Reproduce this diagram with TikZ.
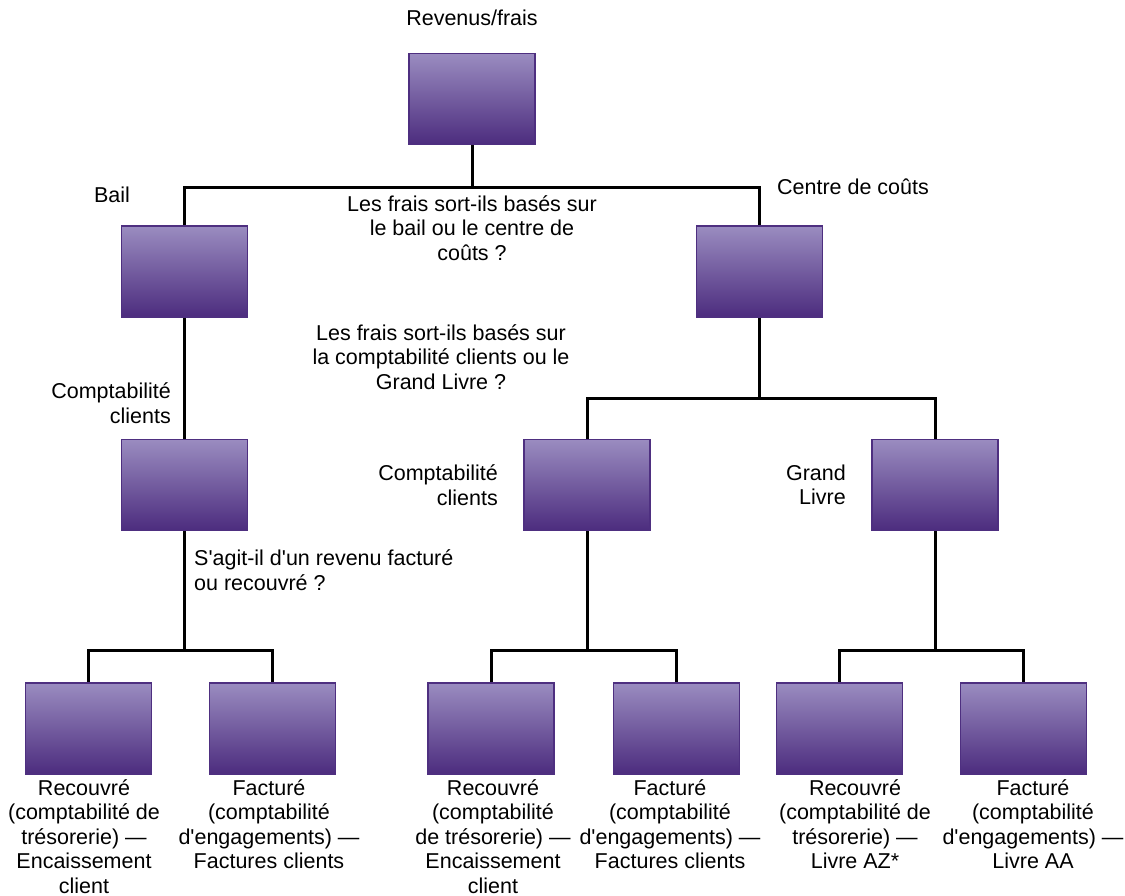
\documentclass[tikz,border=0pt]{standalone}
\usepackage{fontspec}
\setmainfont{Liberation Sans}
\usepackage{tikz}
\usetikzlibrary{calc,positioning}
\definecolor{boxtop}{RGB}{154,140,192}
\definecolor{boxbot}{RGB}{76,44,126}
\definecolor{boxline}{RGB}{78,47,128}

\begin{document}
\begin{tikzpicture}[x=1pt,y=-1pt,
  box/.style={draw=boxline,line width=1.6pt,top color=boxtop,bottom color=boxbot,
    minimum width=126pt,minimum height=91pt,inner sep=0pt},
  lbl/.style={inner sep=0pt,font=\fontsize{21.5}{24.5}\selectfont,align=center},
  wire/.style={line width=3pt}]
  \useasboundingbox (0,0) rectangle (1125,895);
  % boxes
  \node[box] (root) at (472,99) {};
  \node[box] (bail) at (184.5,271.5) {};
  \node[box] (cost) at (759.5,271.5) {};
  \node[box] (acl) at (184.5,485) {};
  \node[box] (acm) at (587,485) {};
  \node[box] (gl) at (935,485) {};
  \node[box] (b1) at (88.5,728.5) {};
  \node[box] (b2) at (272.5,728.5) {};
  \node[box] (b3) at (491,728.5) {};
  \node[box] (b4) at (676.5,728.5) {};
  \node[box] (b5) at (839.5,728.5) {};
  \node[box] (b6) at (1023.5,728.5) {};
  % connectors
  \coordinate (s1) at (472,187);
  \coordinate (s2) at (759.5,398);
  \coordinate (s3) at (184.5,650);
  \coordinate (s4) at (587,650);
  \coordinate (s5) at (935,650);
  \draw[wire] (root.south) -- (s1);
  \draw[wire] (bail.north) |- (s1) -| (cost.north);
  \draw[wire] (bail.south) -- (acl.north);
  \draw[wire] (cost.south) -- (s2);
  \draw[wire] (acm.north) |- (s2) -| (gl.north);
  \draw[wire] (acl.south) -- (s3);
  \draw[wire] (b1.north) |- (s3) -| (b2.north);
  \draw[wire] (acm.south) -- (s4);
  \draw[wire] (b3.north) |- (s4) -| (b4.north);
  \draw[wire] (gl.south) -- (s5);
  \draw[wire] (b5.north) |- (s5) -| (b6.north);
  % labels
  \node[lbl] (t0) at (472,18) {Revenus/frais};
  \node[lbl] (tbail) at (112,195) {Bail};
  \node[lbl] (tcost) at (853,187) {Centre de coûts};
  \node[lbl] (q1) at (472,228) {Les frais sort-ils basés sur\\le bail ou le centre de\\coûts ?};
  \node[lbl] (q2) at (441,357) {Les frais sort-ils basés sur\\la comptabilité clients ou le\\Grand Livre ?};
  \node[lbl,anchor=east,align=right] (tacl) at (171,403) {Comptabilité\\clients};
  \node[lbl,anchor=east,align=right] (tacm) at (498,485) {Comptabilité\\clients};
  \node[lbl,anchor=east,align=right] (tgl) at (846,485) {Grand\\Livre};
  \node[lbl,anchor=west,align=left] (q3) at (194,570) {S\textquotesingle agit-il d\textquotesingle un revenu facturé\\ou recouvré ?};
  \node[lbl,anchor=north] (l1) at (84,779) {Recouvré\\(comptabilité de\\trésorerie) —\\Encaissement\\client};
  \node[lbl,anchor=north] (l2) at (269,779) {Facturé\\(comptabilité\\d\textquotesingle engagements) —\\Factures clients};
  \node[lbl,anchor=north] (l3) at (493,779) {Recouvré\\(comptabilité\\de trésorerie) —\\Encaissement\\client};
  \node[lbl,anchor=north] (l4) at (670,779) {Facturé\\(comptabilité\\d\textquotesingle engagements) —\\Factures clients};
  \node[lbl,anchor=north] (l5) at (855,779) {Recouvré\\(comptabilité de\\trésorerie) —\\Livre AZ*};
  \node[lbl,anchor=north] (l6) at (1033,779) {Facturé\\(comptabilité\\d\textquotesingle engagements) —\\Livre AA};
\end{tikzpicture}
\end{document}
